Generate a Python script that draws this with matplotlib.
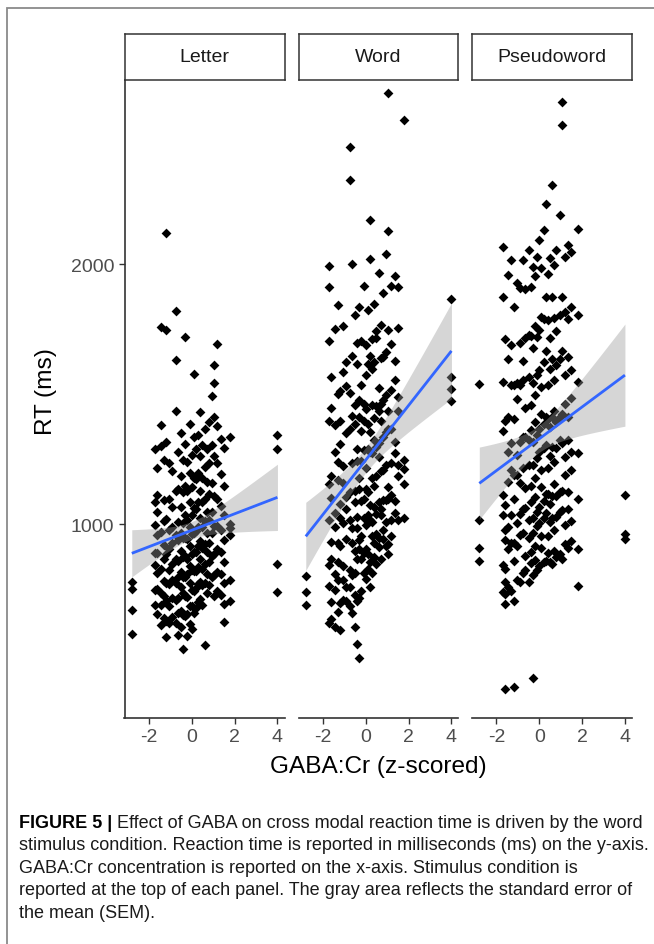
import numpy as np
import matplotlib
matplotlib.use("Agg")
import matplotlib.pyplot as plt
from matplotlib import font_manager
from matplotlib.patches import Rectangle

# ---------------- data ----------------
panels = ["Letter", "Word", "Pseudoword"]
gaba = [-2.8, -1.7, -1.6, -1.45, -1.3, -1.2, -1.05, -0.9, -0.75, -0.65, -0.5, -0.4,
        -0.3, -0.2, -0.1, 0.0, 0.1, 0.2, 0.3, 0.4, 0.5, 0.6, 0.7, 0.8, 0.95, 1.05,
        1.2, 1.35, 1.5, 1.8, 4.0]

rt_letter = [
    [777, 751, 668, 578],
    [1290, 1085, 995, 890, 842, 748, 690],
    [1215, 1110, 1046, 958, 887, 812, 752, 655],
    [1758, 1382, 1300, 968, 826, 735, 688, 612],
    [1248, 1092, 1012, 921, 866, 781, 724, 637],
    [2119, 1746, 1315, 1018, 884, 772, 703, 627, 566],
    [1236, 1098, 976, 905, 822, 768, 684, 618],
    [1205, 1064, 988, 927, 846, 785, 716, 643],
    [1819, 1630, 1433, 1126, 958, 866, 774, 706, 618],
    [1277, 1135, 1006, 938, 858, 795, 714, 656, 575],
    [1352, 1186, 1065, 966, 897, 817, 758, 664, 604],
    [1246, 1124, 1004, 946, 873, 796, 735, 652, 520],
    [1719, 1306, 1147, 1034, 948, 876, 797, 724, 647],
    [1238, 1127, 1016, 944, 866, 806, 718, 655, 568],
    [1383, 1196, 1085, 988, 915, 837, 772, 686, 614],
    [1266, 1144, 1036, 963, 886, 824, 747, 684, 596],
    [1578, 1334, 1176, 1062, 967, 894, 818, 744, 657],
    [1288, 1174, 1057, 975, 893, 818, 755, 677],
    [1343, 1196, 1084, 987, 914, 836, 768, 702],
    [1431, 1262, 1128, 1024, 936, 864, 776, 713],
    [1304, 1177, 1083, 987, 906, 827, 764, 688],
    [1364, 1218, 1096, 1013, 924, 846, 773, 533],
    [1287, 1163, 1047, 966, 894, 806, 733],
    [1392, 1236, 1114, 1017, 928, 855, 767],
    [1491, 1304, 1158, 1046, 964, 877, 796],
    [1613, 1542, 1411, 1263, 1107, 994, 886, 804, 723],
    [1693, 1378, 1234, 1097, 993, 904, 816, 744],
    [1327, 1194, 1068, 976, 894, 806, 727],
    [1293, 1146, 1034, 937, 853, 772, 693, 623],
    [1334, 1002, 983, 958, 784, 703],
    [1342, 1288, 846, 738],
]

rt_word = [
    [800, 738, 688],
    [1992, 1912, 1705, 1398, 1154, 1017, 842, 763, 618],
    [1566, 1447, 1183, 1102, 931, 866, 702, 633],
    [1752, 1381, 1276, 1043, 990, 808, 747, 604],
    [1844, 1502, 1237, 1170, 928, 853, 783, 662],
    [1513, 1398, 1306, 1079, 1022, 914, 698, 594],
    [1761, 1585, 1224, 1157, 1004, 837, 784, 707],
    [1622, 1530, 1349, 1103, 1056, 943, 757, 704],
    [2450, 2322, 1504, 1367, 1124, 1016, 824, 757, 683],
    [2001, 1646, 1414, 1236, 983, 927, 804, 657],
    [1803, 1456, 1384, 1127, 1083, 897, 813, 727, 603],
    [1697, 1614, 1287, 1243, 1026, 984, 866, 703, 540],
    [1833, 1476, 1413, 1177, 1134, 937, 903, 716, 486],
    [1706, 1534, 1357, 1244, 1087, 953, 867, 743],
    [1915, 1463, 1396, 1283, 1096, 1024, 887, 813],
    [1687, 1574, 1443, 1216, 1133, 997, 904, 787],
    [1824, 1617, 1384, 1287, 1123, 1036, 883, 826],
    [2170, 2020, 1647, 1353, 1276, 1074, 1017, 854, 756],
    [1713, 1596, 1457, 1274, 1176, 1007, 954, 813],
    [1846, 1624, 1407, 1323, 1147, 1064, 927, 874],
    [1743, 1717, 1454, 1296, 1184, 1037, 963, 846],
    [1967, 1523, 1436, 1313, 1257, 1084, 947, 913],
    [1764, 1637, 1463, 1397, 1204, 1057, 1033, 866],
    [1887, 1644, 1476, 1334, 1207, 1093, 977, 944],
    [2040, 1663, 1497, 1353, 1226, 1094, 1007, 917],
    [2659, 2127, 1747, 1433, 1367, 1144, 1097, 923, 886],
    [1917, 1693, 1517, 1364, 1236, 1113, 1017, 953],
    [1953, 1627, 1554, 1316, 1273, 1087, 1044],
    [1912, 1753, 1487, 1434, 1226, 1183, 1016],
    [2553, 1246, 1212, 1154, 1023],
    [1867, 1565, 1520, 1475],
]

rt_pseudo = [
    [1540, 1017, 908, 858],
    [2065, 1873, 1546, 1358, 1112, 1036, 843, 740],
    [1712, 1396, 1073, 977, 938, 828, 777, 732, 693, 367],
    [1957, 1633, 1413, 1276, 1162, 987, 903, 759],
    [2016, 1687, 1534, 1313, 1206, 1034, 927, 743],
    [1836, 1533, 1403, 1187, 1096, 926, 857, 704, 373],
    [1927, 1544, 1482, 1266, 1187, 1003, 916, 785],
    [1908, 1696, 1533, 1314, 1156, 1037, 957, 779],
    [2016, 1627, 1554, 1333, 1217, 1056, 964, 813],
    [1903, 1714, 1447, 1336, 1137, 1063, 876, 824],
    [2055, 1727, 1564, 1323, 1226, 1017, 947, 776],
    [1913, 1724, 1457, 1363, 1146, 1083, 893, 851],
    [1987, 1678, 1543, 1314, 1227, 1023, 967, 803, 408],
    [1954, 1763, 1497, 1393, 1177, 1103, 917, 863],
    [2027, 1718, 1573, 1344, 1253, 1047, 993, 824],
    [2093, 1747, 1593, 1364, 1276, 1067, 1003, 837],
    [1983, 1796, 1527, 1423, 1206, 1143, 953, 907],
    [2132, 1787, 1624, 1383, 1293, 1087, 1024, 853],
    [2232, 1873, 1667, 1413, 1303, 1117, 1043, 856],
    [1963, 1783, 1533, 1404, 1217, 1117, 953, 887],
    [2024, 1716, 1597, 1373, 1263, 1076, 1007, 854],
    [2305, 1873, 1636, 1413, 1296, 1107, 1023, 846],
    [1996, 1793, 1553, 1434, 1237, 1153, 977, 897],
    [2053, 1744, 1613, 1393, 1294, 1107, 1027, 874],
    [2187, 1806, 1633, 1413, 1323, 1123, 1047, 883],
    [2623, 2536, 1874, 1667, 1423, 1313, 1127, 1053, 866],
    [2027, 1816, 1574, 1463, 1257, 1187, 997, 923],
    [2074, 1787, 1643, 1413, 1323, 1123, 1057, 907],
    [2047, 1836, 1594, 1484, 1277, 1206, 1013, 936],
    [2136, 1803, 1547, 1273, 1096, 903, 763],
    [1110, 962, 942],
]

x_ticks = [-2, 0, 2, 4]
y_ticks = [1000, 2000]
x_label = "GABA:Cr (z-scored)"
y_label = "RT (ms)"
caption_bold = "FIGURE 5 |"
caption_line1 = " Effect of GABA on cross modal reaction time is driven by the word"
caption_rest = [
    "stimulus condition. Reaction time is reported in milliseconds (ms) on the y-axis.",
    "GABA:Cr concentration is reported on the x-axis. Stimulus condition is",
    "reported at the top of each panel. The gray area reflects the standard error of",
    "the mean (SEM).",
]

# ---------------- layout ----------------
W, H = 654, 945
fig = plt.figure(figsize=(W / 100, H / 100), dpi=100)
fig.patch.set_facecolor("white")

avail = {f.name for f in font_manager.fontManager.ttflist}
main_font = "Liberation Sans" if "Liberation Sans" in avail else "DejaVu Sans"
cap_font = main_font
plt.rcParams["font.family"] = [main_font, "DejaVu Sans"]

def fx(px):
    return px / W

def fy(py):
    return 1 - py / H

panel_left = [124.5, 298.5, 472.0]
panel_w = 160.0
p_top, p_bot = 81.0, 719.0
strip_top = 34.5
xlim = (-3.14, 4.33)
ylim = (254, 2708)

axis_col = "#333333"
tick_txt = "#4D4D4D"
tick_size = 14.0
title_size = 17.6

all_rt = [rt_letter, rt_word, rt_pseudo]
for i, (name, rts) in enumerate(zip(panels, all_rt)):
    ax = fig.add_axes([fx(panel_left[i]), fy(p_bot), panel_w / W, (p_bot - p_top) / H])
    xs = np.concatenate([[g] * len(r) for g, r in zip(gaba, rts)])
    ys = np.concatenate([np.asarray(r, float) for r in rts])
    ax.scatter(xs, ys, marker="D", s=25, c="black", linewidths=0, zorder=2)

    # linear fit with 95% CI (like geom_smooth(method = "lm"))
    n = len(xs)
    b1, b0 = np.polyfit(xs, ys, 1)
    resid = ys - (b0 + b1 * xs)
    s = np.sqrt(np.sum(resid ** 2) / (n - 2))
    xbar = xs.mean()
    sxx = np.sum((xs - xbar) ** 2)
    xg = np.linspace(xs.min(), xs.max(), 80)
    fit = b0 + b1 * xg
    se = s * np.sqrt(1 / n + (xg - xbar) ** 2 / sxx)
    tq = 1.97
    ax.fill_between(xg, fit - tq * se, fit + tq * se, color="#999999", alpha=0.4,
                    linewidth=0, zorder=3)
    ax.plot(xg, fit, color="#3366FF", lw=2.0, zorder=4, solid_capstyle="butt")

    ax.set_xlim(*xlim)
    ax.set_ylim(*ylim)
    for sp in ["top", "right"]:
        ax.spines[sp].set_visible(False)
    ax.spines["bottom"].set_color(axis_col)
    ax.spines["bottom"].set_linewidth(1.2)
    ax.set_xticks(x_ticks)
    ax.set_xticklabels([str(t) for t in x_ticks])
    ax.tick_params(axis="x", colors=axis_col, labelcolor=tick_txt, labelsize=tick_size,
                   length=4.3, width=1.0, pad=3.0)
    if i == 0:
        ax.spines["left"].set_color(axis_col)
        ax.spines["left"].set_linewidth(1.2)
        ax.set_yticks(y_ticks)
        ax.set_yticklabels([str(t) for t in y_ticks])
        ax.tick_params(axis="y", colors=axis_col, labelcolor=tick_txt, labelsize=tick_size,
                       length=4.3, width=1.0, pad=3.0)
    else:
        ax.spines["left"].set_visible(False)
        ax.set_yticks([])
    ax.patch.set_alpha(0)

    # strip
    sax = fig.add_axes([fx(panel_left[i]), fy(p_top), panel_w / W, (p_top - strip_top) / H])
    sax.set_xticks([])
    sax.set_yticks([])
    for sp in sax.spines.values():
        sp.set_color(axis_col)
        sp.set_linewidth(1.1)
    sax.text(0.5, 0.5, name, ha="center", va="center", fontsize=tick_size,
             color="#1A1A1A", transform=sax.transAxes)

fig.text(fx(46), fy(392), y_label, rotation=90, ha="center", va="center",
         fontsize=title_size, color="black")
fig.text(fx(378), fy(767), x_label, ha="center", va="center",
         fontsize=title_size, color="black")

# outer frame (left and top visible)
fig.add_artist(Rectangle((fx(7), fy(1010)), 700 / W, (1010 - 9) / H,
                         transform=fig.transFigure, fill=False,
                         edgecolor="#8A8A8A", lw=1.3, clip_on=False))

# caption
renderer = fig.canvas.get_renderer()
probe = fig.text(0, 0, caption_rest[0], fontsize=10, family=[cap_font, "DejaVu Sans"])
wp = probe.get_window_extent(renderer).width
probe.remove()
cap_size = 10 * 629.0 / wp
em_px = cap_size * 100 / 72
cap_x = 19.0
line_y = [822, 844.5, 867, 889.5, 912]
tb = fig.text(fx(cap_x), fy(line_y[0] + 0.32 * em_px), caption_bold, fontsize=cap_size,
              family=[cap_font, "DejaVu Sans"], fontweight="bold", va="baseline", ha="left")
wb = tb.get_window_extent(renderer).width
fig.text(fx(cap_x + wb), fy(line_y[0] + 0.32 * em_px), caption_line1, fontsize=cap_size,
         family=[cap_font, "DejaVu Sans"], va="baseline", ha="left", color="#1A1A1A")
for k, line in enumerate(caption_rest):
    fig.text(fx(cap_x), fy(line_y[k + 1] + 0.32 * em_px), line, fontsize=cap_size,
             family=[cap_font, "DejaVu Sans"], va="baseline", ha="left", color="#1A1A1A")

fig.savefig("out.png", dpi=100)
